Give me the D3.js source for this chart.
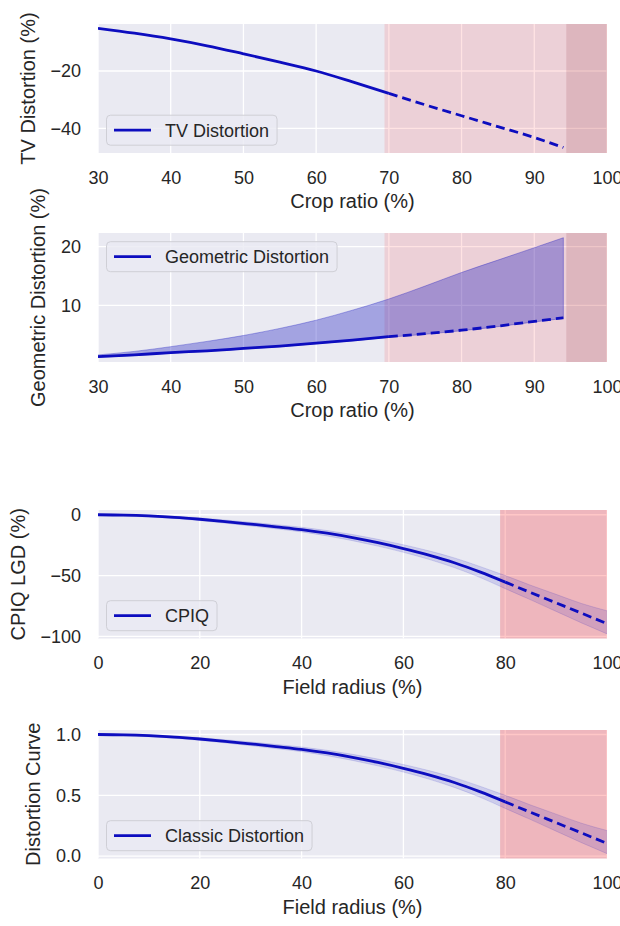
<!DOCTYPE html>
<html>
<head>
<meta charset="utf-8">
<script src="https://cdn.jsdelivr.net/npm/d3@7"></script>
<style>
  body { margin: 0; background: #fff; }
  svg { display: block; font-family: "Liberation Sans", Arial, sans-serif; }
</style>
</head>
<body>
<svg id="chart" width="620" height="926"></svg>
<script>
// Crop ratio panels (TV + geometric distortion)
const cropRatio    = [30, 35, 40, 45, 50, 55, 60, 65, 70, 75, 80, 85, 90, 94];
const tvDistortion = [-5.1, -6.8, -8.8, -11.2, -14.0, -16.9, -20.0, -23.8, -27.8, -31.8, -35.6, -39.4, -43.2, -46.7];
const geoDistortion = [1.3, 1.6, 2.0, 2.3, 2.7, 3.1, 3.6, 4.1, 4.7, 5.2, 5.8, 6.5, 7.3, 7.9];
const geoUpper      = [1.6, 2.2, 3.0, 3.9, 4.9, 6.1, 7.5, 9.2, 11.1, 13.3, 15.6, 17.7, 19.8, 21.5];
const geoLower      = [1.2, 1.5, 1.9, 2.2, 2.6, 3.0, 3.5, 4.0, 4.6, 5.1, 5.7, 6.4, 7.2, 7.8];

// Field radius panels (CPIQ + classic distortion)
const fieldRadius  = [0, 5, 10, 15, 20, 25, 30, 35, 40, 45, 50, 55, 60, 65, 70, 75, 80, 85, 90, 95, 100];
const cpiqLgd      = [0, -0.3, -1.0, -2.1, -3.7, -5.6, -7.7, -9.9, -12.2, -15.2, -18.8, -23.0, -27.8, -33.2, -39.5, -47.0, -55.4, -64.0, -72.5, -81.0, -89.6];
const cpiqUpper    = [0.5, 0.4, -0.2, -1.2, -2.6, -4.3, -6.2, -8.2, -10.3, -13.0, -16.3, -20.2, -24.7, -29.7, -35.5, -42.5, -50.0, -58.0, -65.5, -73.0, -79.0];
const cpiqLower    = [-0.5, -1.0, -1.8, -3.0, -4.8, -6.9, -9.2, -11.6, -14.1, -17.4, -21.3, -25.8, -30.9, -36.7, -43.5, -51.5, -60.8, -70.0, -79.5, -89.0, -98.0];
const classicCurve = [1.0, 0.997, 0.99, 0.979, 0.963, 0.944, 0.923, 0.901, 0.878, 0.848, 0.812, 0.77, 0.722, 0.668, 0.605, 0.53, 0.446, 0.36, 0.275, 0.19, 0.104];
const classicUpper = [1.005, 1.004, 0.998, 0.988, 0.974, 0.957, 0.938, 0.918, 0.897, 0.870, 0.837, 0.798, 0.753, 0.703, 0.645, 0.575, 0.50, 0.42, 0.345, 0.27, 0.21];
const classicLower = [0.995, 0.99, 0.982, 0.97, 0.952, 0.931, 0.908, 0.884, 0.859, 0.826, 0.787, 0.742, 0.691, 0.633, 0.565, 0.485, 0.392, 0.30, 0.205, 0.11, 0.02];

// Tick values
const cropTicks    = [30, 40, 50, 60, 70, 80, 90, 100];
const fieldTicks   = [0, 20, 40, 60, 80, 100];
const tvTicks      = [-40, -20];
const geoTicks     = [10, 20];
const cpiqTicks    = [-100, -50, 0];
const classicTicks = [0, 0.5, 1.0];

const LINE = "#0d0dbf";
const TEXT = "#262626";
const L = 98, R = 607;

const panels = [
  { top: 24, bottom: 153, xs: cropRatio, ys: tvDistortion, lo: null, hi: null,
    xDomain: [30, 100], yDomain: [-48.6, -3.6], xTicks: cropTicks, yTicks: tvTicks, yFmt: d3.format("d"),
    split: 70, spans: [[69.4, 100, "#ff0000", 0.11], [94.4, 100, "#8e1f30", 0.15]],
    legend: "TV Distortion", legendAt: "bottom", ylabel: "TV Distortion (%)", xlabel: "Crop ratio (%)" },
  { top: 233, bottom: 362, xs: cropRatio, ys: geoDistortion, lo: geoLower, hi: geoUpper, bandOp: 0.32,
    xDomain: [30, 100], yDomain: [0.4, 22.3], xTicks: cropTicks, yTicks: geoTicks, yFmt: d3.format("d"),
    split: 70, spans: [[69.4, 100, "#ff0000", 0.11], [94.4, 100, "#8e1f30", 0.15]],
    legend: "Geometric Distortion", legendAt: "top", ylabel: "Geometric Distortion (%)", xlabel: "Crop ratio (%)" },
  { top: 510, bottom: 638.5, xs: fieldRadius, ys: cpiqLgd, lo: cpiqLower, hi: cpiqUpper, bandOp: 0.13,
    xDomain: [0, 100], yDomain: [-101.8, 3.9], xTicks: fieldTicks, yTicks: cpiqTicks, yFmt: d3.format("d"),
    split: 80, spans: [[79, 100, "#ff0000", 0.22]],
    legend: "CPIQ", legendAt: "bottom", ylabel: "CPIQ LGD (%)", xlabel: "Field radius (%)" },
  { top: 730, bottom: 858.5, xs: fieldRadius, ys: classicCurve, lo: classicLower, hi: classicUpper, bandOp: 0.13,
    xDomain: [0, 100], yDomain: [-0.02, 1.037], xTicks: fieldTicks, yTicks: classicTicks, yFmt: d3.format(".1f"),
    split: 80, spans: [[79, 100, "#ff0000", 0.22]],
    legend: "Classic Distortion", legendAt: "bottom", ylabel: "Distortion Curve", xlabel: "Field radius (%)" },
];

const svg = d3.select("#chart");

panels.forEach((p, pi) => {
  const x = d3.scaleLinear().domain(p.xDomain).range([L, R]);
  const y = d3.scaleLinear().domain(p.yDomain).range([p.bottom, p.top]);
  const g = svg.append("g");

  const clipId = "clip" + pi;
  g.append("clipPath").attr("id", clipId).append("rect")
    .attr("x", L).attr("y", p.top).attr("width", R - L).attr("height", p.bottom - p.top);

  g.append("rect")
    .attr("x", L).attr("y", p.top).attr("width", R - L).attr("height", p.bottom - p.top)
    .attr("fill", "#eaeaf2");

  // grid
  g.append("g").selectAll("line").data(p.xTicks).join("line")
    .attr("x1", d => x(d)).attr("x2", d => x(d))
    .attr("y1", p.top).attr("y2", p.bottom)
    .attr("stroke", "#fff").attr("stroke-width", 1.3);
  g.append("g").selectAll("line").data(p.yTicks).join("line")
    .attr("x1", L).attr("x2", R)
    .attr("y1", d => y(d)).attr("y2", d => y(d))
    .attr("stroke", "#fff").attr("stroke-width", 1.3);

  // shaded regions
  g.append("g").selectAll("rect").data(p.spans).join("rect")
    .attr("x", d => x(d[0])).attr("width", d => x(d[1]) - x(d[0]))
    .attr("y", p.top).attr("height", p.bottom - p.top)
    .attr("fill", d => d[2]).attr("fill-opacity", d => d[3]);

  const pts = p.xs.map((v, i) => ({ x: v, y: p.ys[i], lo: p.lo ? p.lo[i] : null, hi: p.hi ? p.hi[i] : null }));
  const plot = g.append("g").attr("clip-path", `url(#${clipId})`);

  if (p.lo) {
    const area = d3.area().curve(d3.curveMonotoneX)
      .x(d => x(d.x)).y0(d => y(d.lo)).y1(d => y(d.hi));
    plot.append("path").datum(pts).attr("d", area)
      .attr("fill", LINE).attr("fill-opacity", p.bandOp)
      .attr("stroke", LINE).attr("stroke-opacity", p.bandOp).attr("stroke-width", 1);
  }

  const line = d3.line().curve(d3.curveMonotoneX).x(d => x(d.x)).y(d => y(d.y));
  plot.append("path").datum(pts.filter(d => d.x <= p.split)).attr("d", line)
    .attr("fill", "none").attr("stroke", LINE).attr("stroke-width", 2.8);
  plot.append("path").datum(pts.filter(d => d.x >= p.split)).attr("d", line)
    .attr("fill", "none").attr("stroke", LINE).attr("stroke-width", 2.8)
    .attr("stroke-dasharray", "9,5");

  // axes
  const xAxis = g.append("g").attr("transform", `translate(0,${p.bottom})`)
    .call(d3.axisBottom(x).tickValues(p.xTicks).tickSize(0).tickPadding(18).tickFormat(d3.format("d")));
  const yAxis = g.append("g").attr("transform", `translate(${L},0)`)
    .call(d3.axisLeft(y).tickValues(p.yTicks).tickSize(0).tickPadding(17).tickFormat(p.yFmt));
  [xAxis, yAxis].forEach(a => {
    a.select(".domain").remove();
    a.attr("font-family", null).attr("font-size", null);
    a.selectAll("text").attr("font-size", 18).attr("fill", TEXT);
  });

  g.append("text")
    .attr("x", (L + R) / 2).attr("y", p.bottom + 55)
    .attr("text-anchor", "middle").attr("font-size", 20).attr("fill", TEXT)
    .text(p.xlabel);

  const tickLeft = L + yAxis.node().getBBox().x;
  g.append("text")
    .attr("transform", `translate(${tickLeft - 15.5},${(p.top + p.bottom) / 2}) rotate(-90)`)
    .attr("text-anchor", "middle").attr("font-size", 20).attr("fill", TEXT)
    .text(p.ylabel);

  // legend
  const bx = L + 8.5, bh = 30;
  const by = p.legendAt === "top" ? p.top + 8.7 : p.bottom - 7.8 - bh;
  const leg = g.append("g");
  const box = leg.append("rect")
    .attr("x", bx).attr("y", by).attr("height", bh).attr("rx", 4)
    .attr("fill", "#eaeaf2").attr("fill-opacity", 0.8)
    .attr("stroke", "#cfcfd6").attr("stroke-width", 1);
  leg.append("line")
    .attr("x1", bx + 7.5).attr("x2", bx + 44.5)
    .attr("y1", by + bh / 2).attr("y2", by + bh / 2)
    .attr("stroke", LINE).attr("stroke-width", 2.8);
  const lt = leg.append("text")
    .attr("x", bx + 58.5).attr("y", by + bh / 2).attr("dy", "0.35em")
    .attr("font-size", 18).attr("fill", TEXT)
    .text(p.legend);
  box.attr("width", 58.5 + lt.node().getComputedTextLength() + 8);
});
</script>
</body>
</html>
